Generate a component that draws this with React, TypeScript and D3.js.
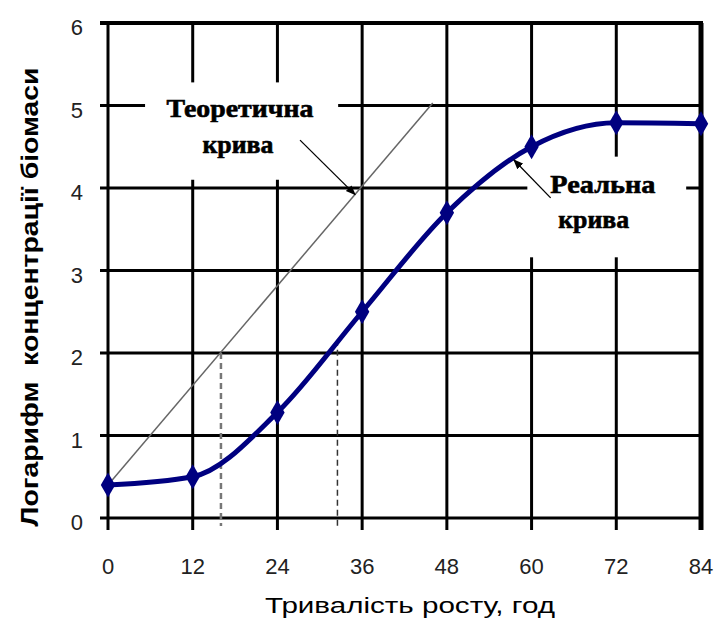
import React from "react";
import * as d3 from "d3";

// data
const hours = [0, 12, 24, 36, 48, 60, 72, 84];
const logBiomass = [0.4, 0.5, 1.28, 2.5, 3.7, 4.5, 4.79, 4.78];
const xTicks = [0, 12, 24, 36, 48, 60, 72, 84];
const yTicks = [0, 1, 2, 3, 4, 5, 6];
// theoretical (exponential) growth line
const theoryX = [0, 46];
const theoryY = [0.4, 5.03];
// dashed drop lines (doubling time marks)
const dropX = [16, 32.5];
const dropY = [2.0, 2.16];

const W = 717;
const H = 621;

export default function App() {
  const x = d3.scaleLinear().domain([0, 84]).range([108, 701]);
  const y = d3.scaleLinear().domain([0, 6]).range([518, 23]);

  const pts: [number, number][] = hours.map((h, i) => [h, logBiomass[i]]);
  const line = d3
    .line<[number, number]>()
    .x((d) => x(d[0]))
    .y((d) => y(d[1]))
    .curve(d3.curveMonotoneX);

  const diamond = d3.symbol().type(d3.symbolDiamond).size(180)();

  const serif = "Liberation Serif, Times New Roman, serif";
  const sans = "Liberation Sans, Arial, sans-serif";

  return (
    <svg
      width={W}
      height={H}
      style={{ position: "absolute", left: 0, top: 0, background: "#fff" }}
    >
      <defs>
        <marker
          id="arr"
          viewBox="0 0 10 10"
          refX="9"
          refY="5"
          markerWidth="10"
          markerHeight="10"
          orient="auto"
          markerUnits="userSpaceOnUse"
        >
          <path d="M0,1 L10,5 L0,9 z" fill="#000" />
        </marker>
      </defs>

      {/* grid */}
      <g stroke="#000">
        {yTicks.map((t) => (
          <line
            key={"h" + t}
            x1={x(0) - 8}
            x2={x(84) + 2}
            y1={y(t)}
            y2={y(t)}
            strokeWidth={t === 6 ? 4 : 3}
          />
        ))}
        {xTicks.map((t) => (
          <line
            key={"v" + t}
            x1={x(t)}
            x2={x(t)}
            y1={y(6)}
            y2={y(0) + 12}
            strokeWidth={t === 84 ? 5 : 3}
          />
        ))}
      </g>

      {/* label backgrounds hide the grid */}
      <rect
        x={x(5.25)}
        y={y(5.28)}
        width={x(32.6) - x(5.25)}
        height={y(4.1) - y(5.28)}
        fill="#fff"
      />
      <rect
        x={x(59.4)}
        y={y(4.38)}
        width={x(81.9) - x(59.4)}
        height={y(3.16) - y(4.38)}
        fill="#fff"
      />

      {/* dashed drop lines */}
      {dropX.map((d, i) => (
        <line
          key={"d" + i}
          x1={x(d)}
          x2={x(d)}
          y1={y(dropY[i])}
          y2={y(0) + 8}
          stroke={i === 0 ? "#777" : "#333"}
          strokeWidth={i === 0 ? 2.5 : 1.5}
          strokeDasharray="6,4"
        />
      ))}

      {/* theoretical line */}
      <line
        x1={x(theoryX[0])}
        y1={y(theoryY[0])}
        x2={x(theoryX[1])}
        y2={y(theoryY[1])}
        stroke="#666"
        strokeWidth={1.5}
      />

      {/* real curve */}
      <path d={line(pts) ?? ""} fill="none" stroke="#000080" strokeWidth={5} />
      {pts.map((p, i) => (
        <path
          key={"m" + i}
          d={diamond ?? ""}
          transform={`translate(${x(p[0])},${y(p[1])})`}
          fill="#000080"
        />
      ))}

      {/* annotations */}
      <g
        fontFamily={serif}
        fontWeight="bold"
        fontSize={25}
        fill="#000"
        stroke="#000"
        strokeWidth={0.6}
        textAnchor="middle"
      >
        <text x={x(18.7)} y={y(4.86)} textLength={147} lengthAdjust="spacingAndGlyphs">
          Теоретична
        </text>
        <text x={x(18.4)} y={y(4.42)} textLength={71} lengthAdjust="spacingAndGlyphs">
          крива
        </text>
        <text x={x(70.1)} y={y(3.94)} textLength={105} lengthAdjust="spacingAndGlyphs">
          Реальна
        </text>
        <text x={x(68.8)} y={y(3.52)} textLength={71} lengthAdjust="spacingAndGlyphs">
          крива
        </text>
      </g>
      <line
        x1={x(27.2)}
        y1={y(4.58)}
        x2={x(35.0)}
        y2={y(3.92)}
        stroke="#000"
        strokeWidth={1.3}
        markerEnd="url(#arr)"
      />
      <line
        x1={x(62.7)}
        y1={y(3.88)}
        x2={x(57.5)}
        y2={y(4.34)}
        stroke="#000"
        strokeWidth={1.3}
        markerEnd="url(#arr)"
      />

      {/* tick labels */}
      <g fontFamily={sans} fontSize={22} fill="#222">
        {xTicks.map((t) => (
          <text key={"xt" + t} x={x(t)} y={574} textAnchor="middle">
            {t}
          </text>
        ))}
        {yTicks.map((t) => (
          <text key={"yt" + t} x={83} y={y(t) + 12} textAnchor="end">
            {t}
          </text>
        ))}
      </g>

      {/* axis titles */}
      <text
        x={410}
        y={613}
        textAnchor="middle"
        fontFamily={sans}
        fontSize={22}
        textLength={290}
        lengthAdjust="spacingAndGlyphs"
      >
        Тривалість росту, год
      </text>
      <text
        transform="translate(38,297) rotate(-90)"
        textAnchor="middle"
        fontFamily={sans}
        fontWeight="bold"
        fontSize={24}
        textLength={459}
        lengthAdjust="spacingAndGlyphs"
        style={{ whiteSpace: "pre" }}
      >
        Логарифм  концентрації біомаси
      </text>
    </svg>
  );
}
